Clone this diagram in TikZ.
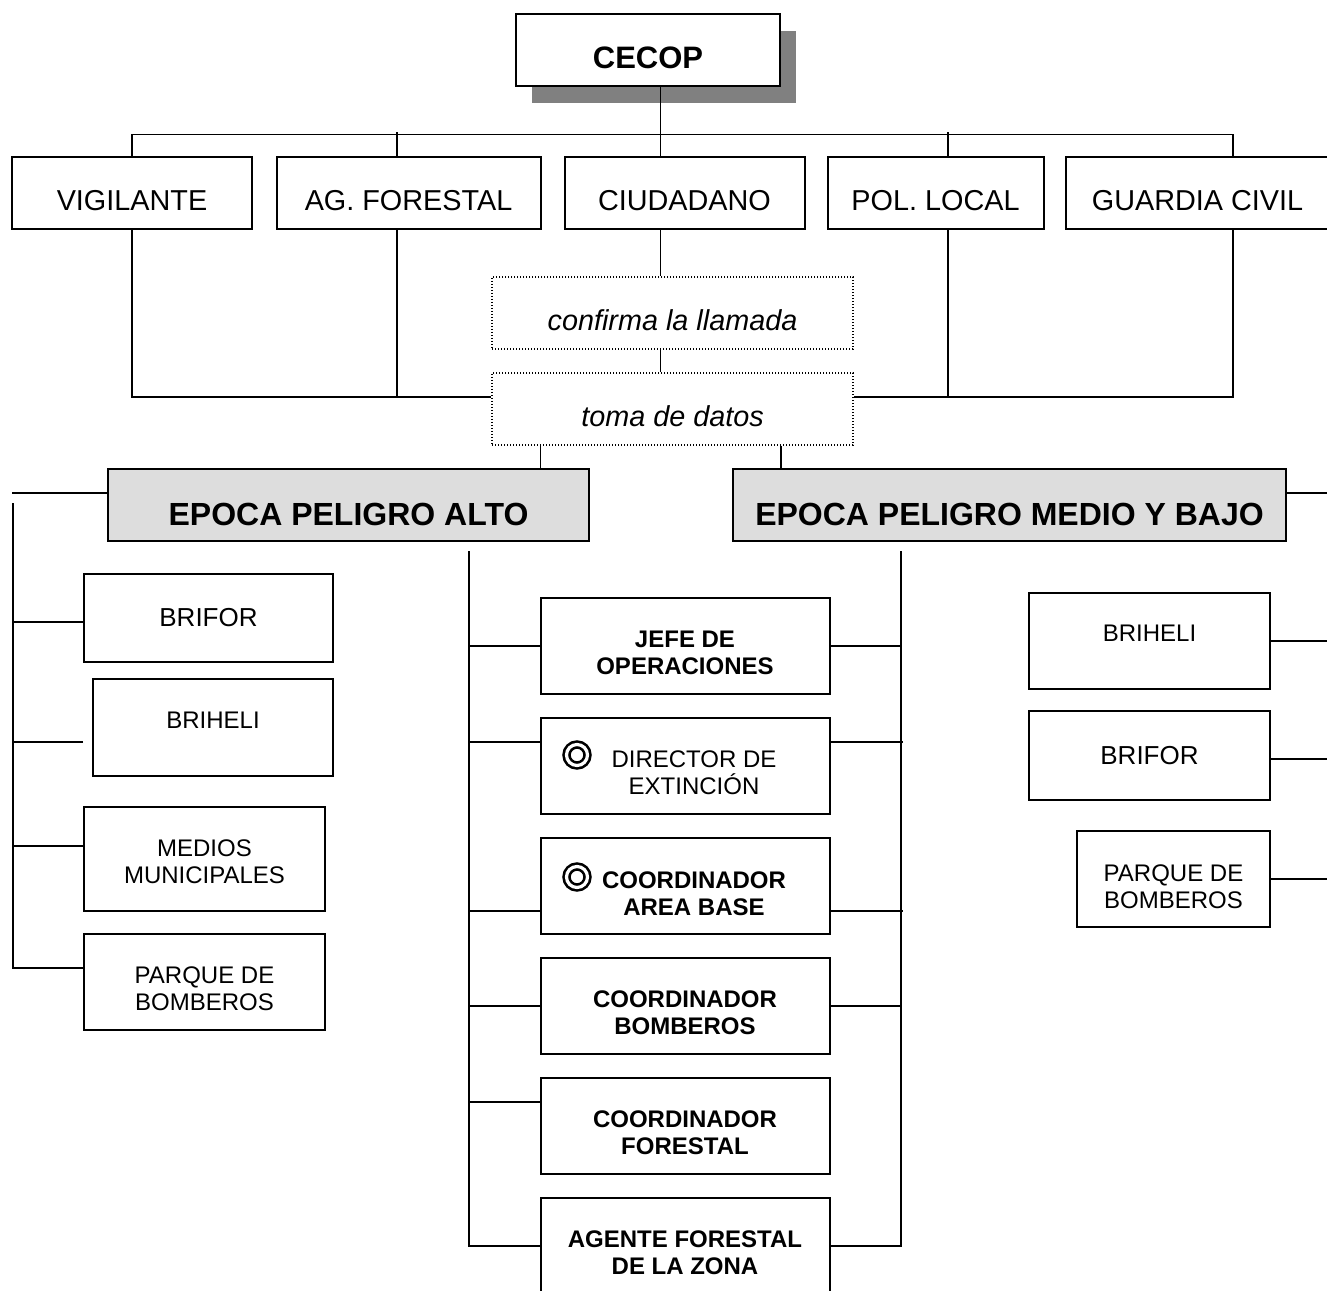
\documentclass[tikz,border=0pt]{standalone}
\usepackage{fontspec}
\setmainfont{Liberation Sans}
\usetikzlibrary{shadows}

\definecolor{epocagris}{HTML}{DDDDDD}
\definecolor{sombra}{HTML}{808080}

\tikzset{
  caja/.style={draw,line width=1pt,inner sep=0pt,align=center},
  punteada/.style={draw,line width=0.7pt,dash pattern=on 0.6pt off 0.9pt,inner sep=0pt,
    minimum width=180.5pt,minimum height=36pt,
    font={\fontsize{14.4}{16}\selectfont\itshape},text height=17.5pt,text depth=0pt},
  fila/.style={caja,minimum height=36pt,font={\fontsize{14.4}{16}\selectfont},
    text height=17.3pt,text depth=0pt},
  epoca/.style={caja,fill=epocagris,minimum height=36pt,
    font={\fontsize{16}{19}\selectfont\bfseries},text height=20.5pt,text depth=0pt},
  chica/.style={caja,font={\fontsize{12}{13.5}\selectfont}},
  negrita/.style={caja,minimum width=144.5pt,minimum height=48pt,
    font={\fontsize{12}{13.5}\selectfont\bfseries}},
  dos/.style={text height=#1,text depth=0pt},
  anillo/.style={circle,draw,double,line width=1.3pt,double distance=1.6pt,
    minimum size=10.5pt,inner sep=0pt},
  linea/.style={line width=0.9pt}
}

\begin{document}
\begin{tikzpicture}[x=0.5pt,y=-0.5pt]
\useasboundingbox (0,0) rectangle (1327,1290);
\clip (0,0) rectangle (1327,1290);

% CECOP and the first row
\node[caja,minimum width=132pt,minimum height=36pt,fill=white,
  drop shadow={shadow xshift=8pt,shadow yshift=-8.5pt,fill=sombra,opacity=1},
  font={\fontsize{15.5}{18}\selectfont\bfseries},text height=18.6pt,text depth=0pt]
  (cecop) at (648,49.5) {CECOP};
\node[fila,minimum width=120pt] (vig) at (132,193) {VIGILANTE};
\node[fila,minimum width=132pt] (agf) at (408.5,193) {AG. FORESTAL};
\node[fila,minimum width=120pt] (ciu) at (684.5,193) {CIUDADANO};
\node[fila,minimum width=108pt] (pol) at (935.5,193) {POL. LOCAL};
\node[fila,minimum width=131.5pt] (gua) at (1197.5,193) {GUARDIA CIVIL};

% The call
\node[punteada] (conf) at (672.5,313) {confirma la llamada};
\node[punteada] (toma) at (672.5,409) {toma de datos};

% The two seasons
\node[epoca,minimum width=240.5pt] (alto) at (348.5,505) {EPOCA PELIGRO ALTO};
\node[epoca,minimum width=276.5pt] (medio) at (1009.5,505) {EPOCA PELIGRO MEDIO Y BAJO};

% Left column
\node[chica,minimum width=124.5pt,minimum height=44pt,font={\fontsize{13}{15}\selectfont}]
  (brifa) at (208.5,618) {BRIFOR};
\node[chica,minimum width=120pt,minimum height=48.5pt,text height=8.6pt,text depth=7.5pt]
  (briha) at (213,727.5) {BRIHELI};
\node[chica,dos=25.1pt,minimum width=120.5pt,minimum height=52pt]
  (medios) at (204.5,858.5) {MEDIOS\\MUNICIPALES};
\node[chica,dos=28.6pt,minimum width=120.5pt,minimum height=48pt]
  (parqa) at (204.5,982) {PARQUE DE\\BOMBEROS};

% Central column
\node[negrita,dos=28.1pt] (jefe) at (685,646) {JEFE DE\\OPERACIONES};
\node[caja,minimum width=144.5pt,minimum height=48pt] (direc) at (685,766) {};
\node[align=center,font={\fontsize{12}{13.5}\selectfont}] (dirtxt) at (694,772.5) {DIRECTOR DE\\EXTINCIÓN};
\node[anillo] (anda) at (577,755) {};
\node[caja,minimum width=144.5pt,minimum height=48pt] (coar) at (685,886) {};
\node[align=center,font={\fontsize{12}{13.5}\selectfont\bfseries}] (coartxt) at (694,893.5) {COORDINADOR\\AREA BASE};
\node[anillo] (andb) at (577,877) {};
\node[negrita,dos=28.1pt] (cobo) at (685,1006) {COORDINADOR\\BOMBEROS};
\node[negrita,dos=28.1pt] (cofo) at (685,1126) {COORDINADOR\\FORESTAL};
\node[negrita,dos=28.1pt] (agen) at (685,1246) {AGENTE FORESTAL\\DE LA ZONA};

% Right column
\node[chica,minimum width=120.5pt,minimum height=48pt,text height=8.6pt,text depth=8pt]
  (brihb) at (1149.5,641) {BRIHELI};
\node[chica,minimum width=120.5pt,minimum height=44.5pt,font={\fontsize{13}{15}\selectfont}]
  (brifb) at (1149.5,755.5) {BRIFOR};
\node[chica,dos=29.6pt,minimum width=96.5pt,minimum height=48pt]
  (parqb) at (1173.5,879) {PARQUE DE\\BOMBEROS};

% From CECOP to the first row
\draw[linea] ([xshift=6.25pt]cecop.south) -- ++(0,48) coordinate (bus);
\draw[linea] (vig.north) |- (bus) -| ([xshift=17.75pt]gua.north);
\draw[linea] ([xshift=-5.75pt]agf.north) -- ++(0,-24);
\draw[linea] ([xshift=-12pt]ciu.north) -- ++(0,-24);
\draw[linea] ([xshift=6.25pt]pol.north) -- ++(0,-24);

% From the first row to the call
\coordinate (tomaw) at ([yshift=6pt]toma.west);
\coordinate (tomae) at ([yshift=6pt]toma.east);
\draw[linea] (vig.south) |- (tomaw);
\draw[linea] ([xshift=-5.75pt]agf.south) -- ++(0,168);
\draw[linea] ([xshift=-12pt]ciu.south) -- ([xshift=-6pt]conf.north);
\draw[linea] ([xshift=-6pt]conf.south) -- ([xshift=-6pt]toma.north);
\draw[linea] ([xshift=17.75pt]gua.south) |- (tomae);
\draw[linea] ([xshift=6.25pt]pol.south) -- ++(0,168);

% From the call to the seasons
\draw[linea] ([xshift=-66pt]toma.south) -- ([xshift=96pt]alto.north);
\draw[linea] ([xshift=54.25pt]toma.south) -- ([xshift=-114.25pt]medio.north);

% Left column lines
\draw[linea] ([yshift=6pt]alto.west) -- ++(-95,0);
\coordinate (izq) at (13,503);
\draw[linea] (izq) |- ([yshift=7pt]parqa.west);
\draw[linea] ([yshift=-2pt]brifa.west) -- ++(-71,0);
\draw[linea] ([xshift=-4.5pt,yshift=-7.25pt]briha.west) -- ++(-71,0);
\draw[linea] ([yshift=6.25pt]medios.west) -- ++(-71,0);

% Central column lines
\coordinate (cizq) at (469,551);
\coordinate (cder) at (901,551);
\draw[linea] (cizq) |- (agen.west);
\draw[linea] (cder) |- (agen.east);
\draw[linea] (jefe.west) -- (jefe.west -| cizq);
\draw[linea] (jefe.east) -- (jefe.east -| cder);
\draw[linea] ([yshift=12pt]direc.west) -- ++(-72,0);
\draw[linea] ([yshift=12pt]direc.east) -- ++(72,0);
\draw[linea] ([yshift=-12.5pt]coar.west) -- ++(-72,0);
\draw[linea] ([yshift=-12.5pt]coar.east) -- ++(72,0);
\draw[linea] (cobo.west) -- (cobo.west -| cizq);
\draw[linea] (cobo.east) -- (cobo.east -| cder);
\draw[linea] ([yshift=12pt]cofo.west) -- ++(-72,0);

% Right column lines
\draw[linea] ([yshift=6pt]medio.east) -- ++(45,0);
\draw[linea] (brihb.east) -- ++(60,0);
\draw[linea] ([yshift=-1.75pt]brifb.east) -- ++(60,0);
\draw[linea] (parqb.east) -- ++(60,0);

\end{tikzpicture}
\end{document}
